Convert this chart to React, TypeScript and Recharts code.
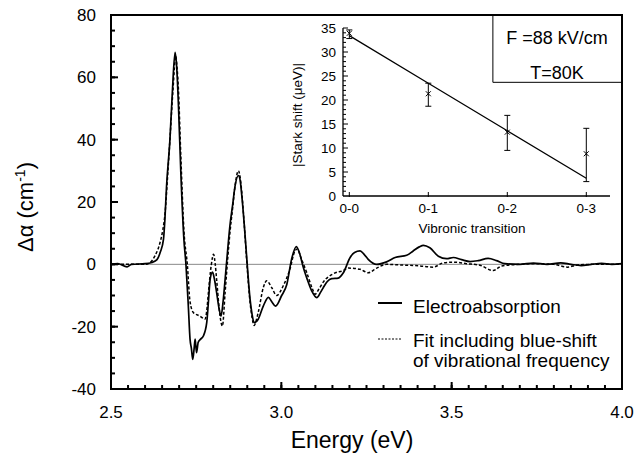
import React from "react";
import {
  LineChart,
  ComposedChart,
  Line,
  Scatter,
  ErrorBar,
  XAxis,
  YAxis,
  ReferenceLine,
  ReferenceArea,
} from "recharts";

const FONT = "'Liberation Sans', Arial, Helvetica, sans-serif";

// main panel: electroabsorption spectrum
const eaEnergy = [
  2.5, 2.52, 2.547, 2.56, 2.6, 2.62, 2.635, 2.645, 2.654, 2.658, 2.663, 2.673, 2.68, 2.688, 2.693,
  2.698, 2.705, 2.714, 2.72, 2.727, 2.732, 2.736, 2.74, 2.744, 2.747, 2.751, 2.756, 2.763, 2.771,
  2.781, 2.786, 2.791, 2.798, 2.804, 2.81, 2.817, 2.823, 2.829, 2.835, 2.842, 2.849, 2.857, 2.864,
  2.874, 2.879, 2.884, 2.891, 2.898, 2.908, 2.914, 2.92, 2.932, 2.947, 2.962, 2.972, 2.983, 3.001,
  3.016, 3.03, 3.044, 3.055, 3.064, 3.075, 3.089, 3.104, 3.115, 3.123, 3.135, 3.148, 3.167, 3.182,
  3.202, 3.215, 3.231, 3.243, 3.255, 3.28, 3.309, 3.334, 3.368, 3.387, 3.405, 3.417, 3.436, 3.461,
  3.485, 3.505, 3.529, 3.554, 3.578, 3.607, 3.632, 3.656, 3.7, 3.74, 3.78, 3.82, 3.85, 3.88, 3.91,
  3.94, 3.97, 4.0,
];
const eaValue = [
  0, 0.2, -0.8, 0, 0.2, 0.6, 1.5, 4, 8, 14, 25, 40, 55, 68, 63,
  51, 29.5, 8, 0, -13.4, -24, -27, -30.5, -27, -24, -28.3, -25, -24, -23,
  -18.7, -12, -4.8, -2.5, -5, -9, -14, -16.6, -12, -4.8, 4, 12.3, 19, 25,
  28.5, 27, 22, 13, 2.7, -11, -16, -18.7, -17.6, -13.4, -10.6, -12, -13.4, -10,
  -6.5, 1.6, 5.7, 3, -0.8, -4.5, -8.5, -10.7, -9, -7.5, -5.5, -4.6, -4.4, -2.7,
  2.2, 3.8, 4.3, 3.2, 1.6, 0, 0.8, 2.2, 2.9, 4.3, 5.6, 6.1, 5.3, 2.6,
  1.8, 2.2, 1.5, 0.9, 1.2, 1.9, 1.2, 0.2, 0, 0.4, 0, 0.5, 0, -0.4, 0,
  0.3, 0, 0.2,
];

// fit including blue-shift of vibrational frequency
const fitEnergy = [
  2.5, 2.6, 2.614, 2.629, 2.644, 2.652, 2.659, 2.666, 2.673, 2.682, 2.69, 2.694, 2.698, 2.705,
  2.714, 2.724, 2.732, 2.742, 2.761, 2.776, 2.781, 2.786, 2.794, 2.801, 2.806, 2.81, 2.82, 2.827,
  2.835, 2.842, 2.849, 2.857, 2.864, 2.874, 2.879, 2.884, 2.891, 2.898, 2.908, 2.914, 2.92, 2.932,
  2.947, 2.957, 2.972, 2.986, 3.006, 3.025, 3.04, 3.047, 3.058, 3.074, 3.09, 3.099, 3.11, 3.123,
  3.153, 3.182, 3.197, 3.231, 3.255, 3.28, 3.309, 3.348, 3.407, 3.446, 3.476, 3.505, 3.544, 3.583,
  3.622, 3.647, 3.7, 3.75, 3.8, 3.84, 3.87, 3.92, 4.0,
];
const fitValue = [
  0, 0, 0.5, 2.7, 7, 11, 16.7, 28, 40, 56, 66.8, 63, 56, 34.7,
  11, 0, -12, -15.5, -16.6, -17.6, -15, -9, -0.5, 3.2, 0, -4.8, -16.6, -19.8,
  -9, 1, 10, 18, 25, 30, 28, 23, 13, 1.7, -12, -17, -19.6, -15.5,
  -7.5, -5.3, -7.5, -10, -6.8, -1.6, 4.3, 4.9, 2, -2.5, -7.5, -9.6, -8, -5.7,
  -3, -2, -1.2, -1.6, -2.7, -1.2, 0, -0.2, -0.5, -0.9, 0.5, 0.7, 0.2, -0.3,
  -2, -0.5, 0, 0.2, 0, -0.9, -0.2, 0, 0,
];

const xTickLabels = ["2.5", "3.0", "3.5", "4.0"];
const yTickLabels = ["-40", "-20", "0", "20", "40", "60", "80"];

// inset: Stark shift per vibronic transition
const transitionLabels = ["0-0", "0-1", "0-2", "0-3"];
const starkShift = [33.9, 21.3, 13.3, 8.8];
const starkErrLow = [1.1, 2.6, 3.8, 5.8];
const starkErrHigh = [0.7, 2.2, 3.5, 5.3];
const starkFit = [33.4, 23.5, 13.6, 3.7];
const insetYLabels = ["0", "5", "10", "15", "20", "25", "30", "35"];

const eaData = eaEnergy.map((e, i) => ({ e, v: eaValue[i] }));
const fitData = fitEnergy.map((e, i) => ({ e, v: fitValue[i] }));
const insetData = transitionLabels.map((_, i) => ({
  x: i,
  shift: starkShift[i],
  err: [starkErrLow[i], starkErrHigh[i]],
  fit: starkFit[i],
}));

const X_DOM: [number, number] = [2.5, 4];
const Y_DOM: [number, number] = [-40, 80];
const IX_DOM: [number, number] = [-0.08, 3.3];
const IY_DOM: [number, number] = [0, 35];

// plot boxes (px) that follow from the chart sizes and margins below
const MAIN = { left: 111, right: 622, top: 15, bottom: 389 };
const INSET = { left: 343, right: 610, top: 28, bottom: 196 };
const lin = (d: [number, number], a: number, b: number) => (v: number) => a + ((v - d[0]) / (d[1] - d[0])) * (b - a);
const mx = lin(X_DOM, MAIN.left, MAIN.right);
const my = lin(Y_DOM, MAIN.bottom, MAIN.top);
const ix = lin(IX_DOM, INSET.left, INSET.right);
const iy = lin(IY_DOM, INSET.bottom, INSET.top);

const xMajor = xTickLabels.map(Number);
const yMajor = yTickLabels.map(Number);
const xMinor: number[] = [];
for (let i = 1; i < 30; i++) xMinor.push(Math.round((2.5 + i * 0.05) * 100) / 100);
const yMinor: number[] = [];
for (let v = -35; v < 80; v += 5) yMinor.push(v);
const insetXTicks = transitionLabels.map((_, i) => i);
const insetYMajor = insetYLabels.map(Number);
const insetYMinor: number[] = [];
for (let v = 1; v <= 35; v++) insetYMinor.push(v);

const XLabel = (props: any) => {
  const { x, y, payload } = props;
  const idx = xMajor.findIndex((t) => Math.abs(t - payload.value) < 1e-6);
  return (
    <text x={x} y={y + 29} textAnchor="middle" fontSize={17} fontFamily={FONT} fill="#000">
      {xTickLabels[idx]}
    </text>
  );
};

const YLabel = (props: any) => {
  const { x, y, payload } = props;
  return (
    <text x={x - 15} y={y + 6} textAnchor="end" fontSize={17} fontFamily={FONT} fill="#000">
      {yTickLabels[yMajor.indexOf(payload.value)]}
    </text>
  );
};

const InsetXLabel = (props: any) => {
  const { x, y, payload } = props;
  return (
    <text x={x} y={y + 17} textAnchor="middle" fontSize={13.5} fontFamily={FONT} fill="#000">
      {transitionLabels[payload.value]}
    </text>
  );
};

const InsetYLabel = (props: any) => {
  const { x, y, payload } = props;
  return (
    <text x={x - 7} y={y + 5} textAnchor="end" fontSize={13.5} fontFamily={FONT} fill="#000">
      {insetYLabels[insetYMajor.indexOf(payload.value)]}
    </text>
  );
};

const Cross = (props: any) => {
  const { cx, cy } = props;
  const s = 2.5;
  return (
    <path
      d={`M${cx - s},${cy - s}L${cx + s},${cy + s}M${cx - s},${cy + s}L${cx + s},${cy - s}`}
      stroke="#000"
      strokeWidth={1}
    />
  );
};

const axisLine = { stroke: "#000", strokeWidth: 2 };

const App = () => {
  return (
    <div style={{ position: "absolute", left: 0, top: 0, width: 636, height: 476, background: "#fff" }}>
      <LineChart width={636} height={476} margin={{ top: 15, right: 14, bottom: 57, left: 0 }}>
        <XAxis
          type="number"
          dataKey="e"
          domain={X_DOM}
          allowDataOverflow
          ticks={xMajor}
          interval={0}
          tick={<XLabel />}
          tickLine={false}
          tickSize={0}
          tickMargin={0}
          axisLine={axisLine}
          height={30}
        />
        <YAxis
          type="number"
          domain={Y_DOM}
          allowDataOverflow
          ticks={yMajor}
          interval={0}
          tick={<YLabel />}
          tickLine={false}
          tickSize={0}
          tickMargin={0}
          axisLine={axisLine}
          width={111}
        />
        <ReferenceArea x1={X_DOM[0]} x2={X_DOM[1]} y1={Y_DOM[0]} y2={Y_DOM[1]} fill="none" stroke="#000" strokeWidth={2} ifOverflow="visible" />
        <ReferenceLine y={0} stroke="#888" strokeWidth={1} />
        <ReferenceArea x1={3.621} x2={4} y1={58.4} y2={80} fill="none" stroke="#000" strokeWidth={1} />
        <Line
          data={fitData}
          dataKey="v"
          type="monotone"
          stroke="#000"
          strokeWidth={1.5}
          strokeDasharray="3 2"
          dot={false}
          isAnimationActive={false}
        />
        <Line data={eaData} dataKey="v" type="monotone" stroke="#000" strokeWidth={1.7} dot={false} isAnimationActive={false} />
      </LineChart>

      <div style={{ position: "absolute", left: 280, top: 15 }}>
        <ComposedChart width={340} height={230} data={insetData} margin={{ top: 13, right: 10, bottom: 29, left: 23 }}>
          <XAxis
            type="number"
            dataKey="x"
            domain={IX_DOM}
            allowDataOverflow
            ticks={insetXTicks}
            interval={0}
            tick={<InsetXLabel />}
            tickLine={false}
            tickSize={0}
            tickMargin={0}
            axisLine={{ stroke: "#000", strokeWidth: 1.3 }}
            height={20}
          />
          <YAxis
            type="number"
            domain={IY_DOM}
            allowDataOverflow
            ticks={insetYMajor}
            interval={0}
            tick={<InsetYLabel />}
            tickLine={false}
            tickSize={0}
            tickMargin={0}
            axisLine={{ stroke: "#000", strokeWidth: 1.3 }}
            width={40}
          />
          <Line dataKey="fit" type="linear" stroke="#000" strokeWidth={1.3} dot={false} isAnimationActive={false} />
          <Scatter dataKey="shift" shape={<Cross />} isAnimationActive={false}>
            <ErrorBar dataKey="err" direction="y" width={3} stroke="#000" strokeWidth={1} />
          </Scatter>
        </ComposedChart>
      </div>

      <svg width={636} height={476} style={{ position: "absolute", left: 0, top: 0, pointerEvents: "none" }} fontFamily={FONT}>
        {/* inward axis ticks */}
        <g stroke="#000" strokeWidth={2}>
          {xMinor.map((t) => (
            <line key={"xm" + t} x1={mx(t)} x2={mx(t)} y1={MAIN.bottom} y2={MAIN.bottom - 4} />
          ))}
          {xMajor.map((t) => (
            <line key={"xM" + t} x1={mx(t)} x2={mx(t)} y1={MAIN.bottom} y2={MAIN.bottom - 7} />
          ))}
          {yMinor.map((t) => (
            <line key={"ym" + t} x1={MAIN.left} x2={MAIN.left + 4} y1={my(t)} y2={my(t)} />
          ))}
          {yMajor.map((t) => (
            <line key={"yM" + t} x1={MAIN.left} x2={MAIN.left + 7} y1={my(t)} y2={my(t)} />
          ))}
        </g>
        <g stroke="#000" strokeWidth={1}>
          {insetXTicks.map((t) => (
            <line key={"ix" + t} x1={ix(t)} x2={ix(t)} y1={INSET.bottom + 1} y2={INSET.bottom - 4} />
          ))}
          {insetYMinor.map((t) => (
            <line key={"iy" + t} x1={INSET.left} x2={INSET.left + (t % 5 === 0 ? 5 : 3)} y1={iy(t)} y2={iy(t)} />
          ))}
        </g>

        <text x={352} y={448} textAnchor="middle" fontSize={23}>
          Energy (eV)
        </text>
        <text x={33} y={207} textAnchor="middle" fontSize={22} transform="rotate(-90 33 207)">
          Δα (cm
          <tspan fontSize={14} dy={-8}>-1</tspan>
          <tspan dy={8}>)</tspan>
        </text>
        <text x={557} y={43.5} textAnchor="middle" fontSize={18}>
          F =88 kV/cm
        </text>
        <text x={557} y={78.5} textAnchor="middle" fontSize={18}>
          T=80K
        </text>
        <text x={302} y={115} textAnchor="middle" fontSize={13.5} transform="rotate(-90 302 115)">
          |Stark shift (μeV)|
        </text>
        <text x={472} y={233} textAnchor="middle" fontSize={13.5}>
          Vibronic transition
        </text>
        <line x1={378} x2={402} y1={303} y2={303} stroke="#000" strokeWidth={2} />
        <text x={413} y={313} fontSize={19}>
          Electroabsorption
        </text>
        <line x1={378} x2={402} y1={339} y2={339} stroke="#000" strokeWidth={1} strokeDasharray="2 1.5" />
        <text x={413} y={347} fontSize={19}>
          Fit including blue-shift
        </text>
        <text x={413} y={367} fontSize={19}>
          of vibrational frequency
        </text>
      </svg>
    </div>
  );
};

export default App;
